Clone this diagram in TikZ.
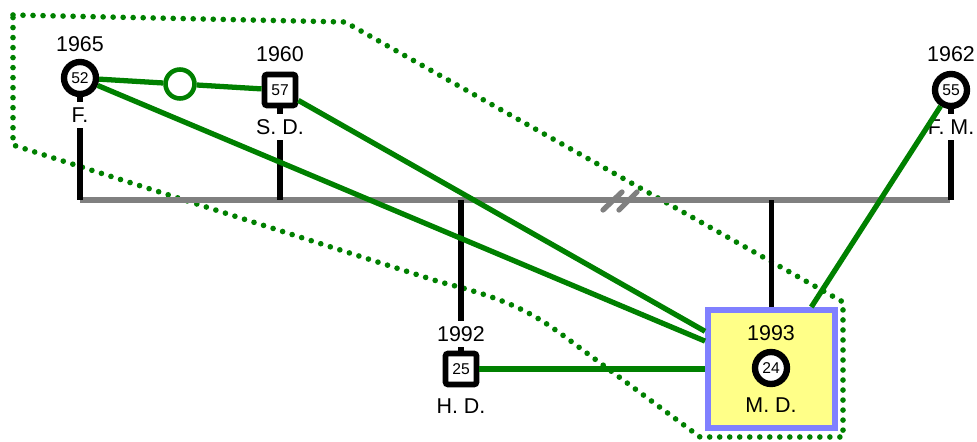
\documentclass[tikz,border=0pt]{standalone}
\usepackage{fontspec}
\setmainfont{Liberation Sans}
\usetikzlibrary{positioning}

\definecolor{kin}{RGB}{0,128,0}
\definecolor{barcol}{RGB}{128,128,128}
\definecolor{boxfill}{RGB}{255,255,136}
\definecolor{boxline}{RGB}{128,128,255}

\newcommand{\labfont}{\fontsize{12.2}{14}\selectfont}
\newcommand{\agefont}{\fontsize{8.9}{10}\selectfont}

\tikzset{
	female/.style={circle, draw=black, fill=white, line width=3.6pt, minimum size=0.64cm, inner sep=0pt, font=\agefont},
	male/.style={rectangle, rounded corners=1.5pt, draw=black, fill=white, line width=3.3pt, minimum size=0.62cm, inner sep=0pt, font=\agefont},
	pname/.style={fill=white, inner xsep=1pt, inner ysep=3pt, font=\labfont},
	pyear/.style={inner sep=1pt, font=\labfont},
	stem/.style={draw=black, line width=3pt},
	tie/.style={draw=kin, line width=3pt},
}

\begin{document}
\begin{tikzpicture}[x=0.02cm, y=-0.02cm]
	\useasboundingbox (0,0) rectangle (977,442); % Rand wie Vorlage
	
	% Gruppe (gepunktet)
	\draw[kin, line width=3.2pt, line cap=round, dash pattern=on 0pt off 5.7pt]
		(13,15) -- (345,22) -- (843,302) -- (843,437) -- (700,437) -- (580,348)
		.. controls (540,318) and (520,302) .. (440,282) -- (13,145) -- cycle;
	
	% Zeitleiste
	\coordinate (barL) at (80,200);
	\coordinate (barR) at (950,200);
	\draw[barcol, line width=3pt] (barL) -- (barR);
	\draw[barcol, line width=3pt, line cap=round] (603,210) -- (622,192) (619,210) -- (637,192); % Bruch
	
	% Kasten um M. D.
	\node[draw=boxline, fill=boxfill, line width=3.4pt, minimum width=2.54cm, minimum height=2.36cm, inner sep=0pt] (mdbox) at (771.5,369) {};
	
	% Personen
	\node[female] (f) at (80,78) {52};
	\node[male] (sd) at (280,90) {57};
	\node[female] (fm) at (951,90) {55};
	\node[male] (hd) at (461,369) {25};
	\node[female] (md) at (771,368) {24};
	\node[circle, draw=kin, fill=white, line width=2.6pt, minimum size=0.58cm, inner sep=0pt] (mid) at (180,84) {};
	
	% Linien zur Zeitleiste
	\draw[stem] (f) -- (f |- barL);
	\draw[stem] (sd) -- (sd |- barL);
	\draw[stem] (fm) -- (fm |- barL);
	\draw[stem] (hd) -- (hd |- barL);
	\draw[stem] (mdbox.north) -- (mdbox.north |- barL);
	
	% Jahre und Namen
	\node[pyear] (fyear) at (80,44) {1965};
	\node[pname] (fname) at (80,115) {F.};
	\node[pyear] (sdyear) at (280,54) {1960};
	\node[pname] (sdname) at (280,127) {S. D.};
	\node[pyear] (fmyear) at (951,54) {1962};
	\node[pname] (fmname) at (951,127) {F. M.};
	\node[pname] (hdyear) at (461,334) {1992};
	\node[pyear] (hdname) at (461,406) {H. D.};
	\node[pyear] (mdyear) at (771,333) {1993};
	\node[pyear] (mdname) at (771,405) {M. D.};
	
	% Beziehungen
	\draw[tie] (f) -- (mid) -- (sd);
	\draw[tie] (f) -- (mdbox);
	\draw[tie] (sd) -- (mdbox);
	\draw[tie] (fm) -- (mdbox);
	\draw[tie] (hd) -- (mdbox);
\end{tikzpicture}
\end{document}
